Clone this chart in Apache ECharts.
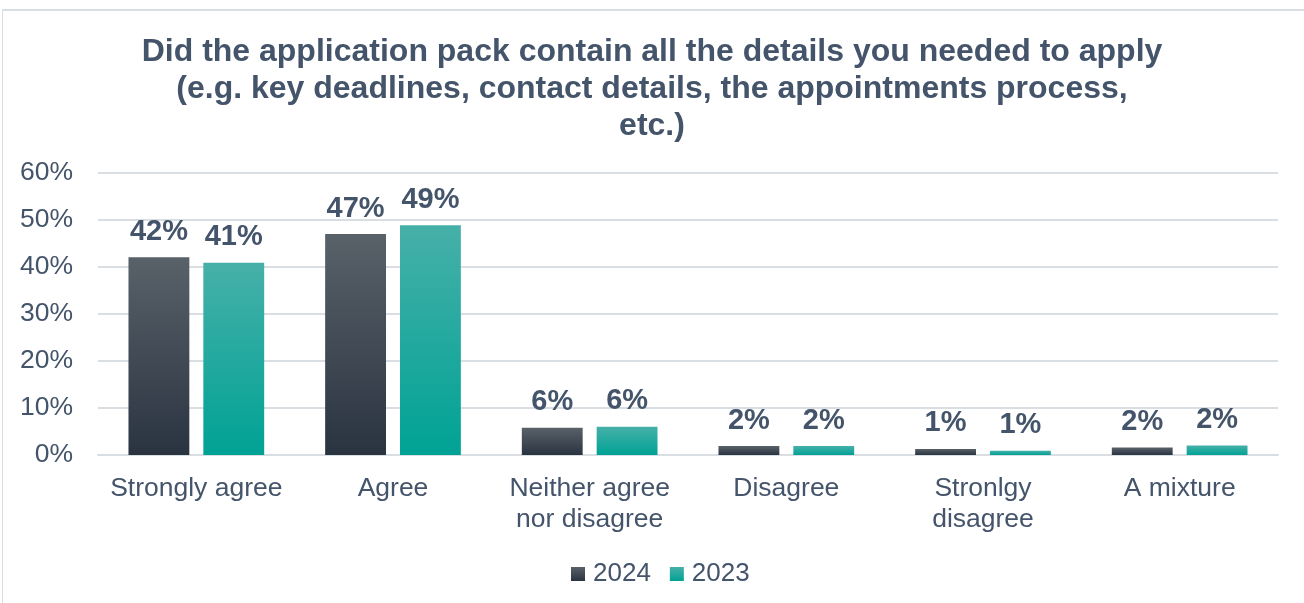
<!DOCTYPE html>
<html><head><meta charset="utf-8">
<script src="https://cdn.jsdelivr.net/npm/echarts@6/dist/echarts.min.js"></script>
<style>html,body{margin:0;padding:0;background:#fff}#frame{position:absolute;left:2px;top:9px;width:1310px;height:600px;border-left:1px solid #d9dee3;border-top:2px solid #d9dee3;box-sizing:border-box}#c{position:absolute;left:0;top:0;width:1304px;height:603px}</style>
</head><body><div id="frame"></div><div id="c"></div>
<script>
const categories = ['Strongly agree', 'Agree', 'Neither agree\nnor disagree', 'Disagree', 'Stronlgy\ndisagree', 'A mixture'];
const values2024 = [42.1, 47.0, 5.8, 1.9, 1.3, 1.6];
const values2023 = [40.9, 48.9, 6.0, 1.9, 0.9, 2.0];
const yTicks = [0, 10, 20, 30, 40, 50, 60];
const titleText = 'Did the application pack contain all the details you needed to apply\n(e.g. key deadlines, contact details, the appointments process,\netc.)';

const font = 'Liberation Sans, Arial, sans-serif';
const textColor = '#44546a';
function grad(top, bottom) {
  return new echarts.graphic.LinearGradient(0, 0, 0, 1, [{offset: 0, color: top}, {offset: 1, color: bottom}]);
}
const chart = echarts.init(document.getElementById('c'), null, {renderer: 'canvas'});
const labelCfg = {show: true, position: 'top', distance: 11, fontFamily: font, fontSize: 29, fontWeight: 'bold', color: textColor,
  formatter: p => Math.round(p.value) + '%'};
chart.setOption({
  animation: false,
  title: {text: titleText, left: 'center', top: 29, textStyle: {fontFamily: font, fontSize: 32, fontWeight: 'bold', color: textColor, lineHeight: 37}},
  legend: {bottom: 11, left: 566, itemWidth: 14, itemHeight: 14, itemGap: 19,
    textStyle: {fontFamily: font, fontSize: 26, color: textColor, padding: [0,0,0,3]},
    data: [{name: '2024', icon: 'rect'}, {name: '2023', icon: 'rect'}]},
  grid: {left: 98, right: 26, top: 173, bottom: 148, containLabel: false},
  xAxis: {type: 'category', data: categories,
    axisLine: {show: true, lineStyle: {color: '#d9dee3', width: 2}}, axisTick: {show: false},
    axisLabel: {fontFamily: font, fontSize: 26.5, color: textColor, margin: 18, lineHeight: 31, interval: 0}},
  yAxis: {type: 'value', min: yTicks[0], max: yTicks[yTicks.length-1], interval: 10,
    axisLine: {show: false}, axisTick: {show: false},
    splitLine: {lineStyle: {color: '#d9dee3', width: 2}},
    axisLabel: {fontFamily: font, fontSize: 26.5, color: textColor, margin: 25, formatter: v => v + '%'}},
  series: [
    {name: '2024', type: 'bar', data: values2024, barGap: '23%', barCategoryGap: '31%',
      itemStyle: {color: grad('#596169', '#2a3441')}, label: labelCfg},
    {name: '2023', type: 'bar', data: values2023,
      itemStyle: {color: grad('#46b0a8', '#00a295')}, label: labelCfg}
  ]
});
</script></body></html>
